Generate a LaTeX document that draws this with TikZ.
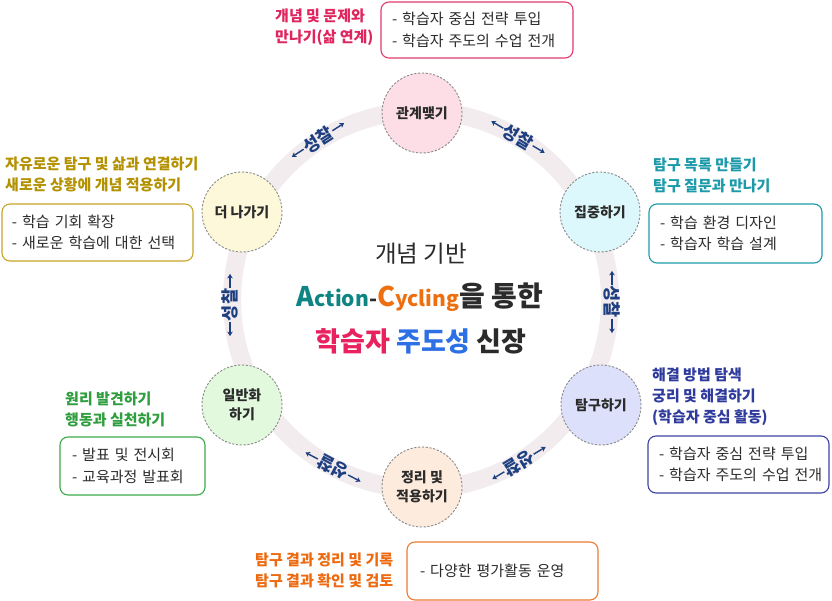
\documentclass[tikz,border=0pt]{standalone}
\usepackage{fontspec}
\setmainfont{Noto Sans CJK KR}
\usetikzlibrary{arrows.meta}
\definecolor{ringc}{HTML}{F3ECEF}
\definecolor{dashc}{HTML}{8A8A8A}
\definecolor{navy}{HTML}{1E3F80}
\definecolor{txt}{HTML}{2B2B2B}
\definecolor{crim}{HTML}{E0245E}
\definecolor{crimb}{HTML}{E33B6C}
\definecolor{gold}{HTML}{B39100}
\definecolor{goldb}{HTML}{C8A42A}
\definecolor{teal1}{HTML}{1C9AAA}
\definecolor{blu}{HTML}{2E3A9C}
\definecolor{blub}{HTML}{3B43A3}
\definecolor{grn}{HTML}{2E9E3E}
\definecolor{grnb}{HTML}{3DAA4B}
\definecolor{orn}{HTML}{EE6A10}
\definecolor{ornb}{HTML}{EE7A30}
\definecolor{actc}{HTML}{0E8582}
\definecolor{cycc}{HTML}{EE6F10}
\definecolor{hakc}{HTML}{E8215F}
\definecolor{juc}{HTML}{2D6FE4}
\definecolor{f1}{HTML}{FDDDE6}
\definecolor{f2}{HTML}{DDF8FC}
\definecolor{f3}{HTML}{DCE0FA}
\definecolor{f4}{HTML}{FDEBDD}
\definecolor{f5}{HTML}{E3F9DE}
\definecolor{f6}{HTML}{FEF8DA}
\newcommand\ringlbl[5]{%
  \begin{scope}[shift={(#2,#3)},rotate=#4]
    \node[rlab] (#1) at (0,0) {#5};
    \draw[rarr] (#1.west) -- ++(-14pt,0);
    \draw[rarr] (#1.east) -- ++(14pt,0);
  \end{scope}}
\begin{document}
\begin{tikzpicture}[x=1pt,y=-1pt,
  ring/.style={draw=ringc, line width=18pt},
  stage/.style={circle, draw=dashc, dash pattern=on 2.2pt off 1.6pt, line width=0.9pt,
    minimum size=80pt, inner sep=0pt, font=\bfseries\fontsize{14}{19.5}\selectfont,
    text=txt, align=center},
  rlab/.style={font=\bfseries\fontsize{17.5}{17.5}\selectfont, text=navy, inner sep=0.8pt, transform shape},
  rarr/.style={draw=navy, line width=1.4pt, -{Stealth[length=4.5pt,width=5.5pt]}},
  head/.style={font=\bfseries\fontsize{15}{21}\selectfont, align=left, anchor=west, inner sep=0pt},
  box/.style={draw=#1, rounded corners=8pt, line width=1.1pt,
    font=\fontsize{15}{21.5}\selectfont, text=txt, align=left, inner ysep=0pt},
]
\useasboundingbox (0,0) rectangle (832,601);
\fill[white] (0,0) rectangle (832,601);
% ring
\draw[ring] (421,300) circle (189pt);
% ring labels
\ringlbl{r1}{318}{140}{32.8}{성찰}
\ringlbl{r2}{518}{137}{-30.8}{성찰}
\ringlbl{r3}{612}{302}{-90}{성찰}
\ringlbl{r4}{519}{463}{-149}{성찰}
\ringlbl{r5}{333}{467}{152.2}{성찰}
\ringlbl{r6}{230}{305}{90}{성찰}
% stages
\node[stage, fill=f1] (s1) at (422,113) {관계맺기};
\node[stage, fill=f2] (s2) at (600,212) {집중하기};
\node[stage, fill=f3] (s3) at (601,405) {탐구하기};
\node[stage, fill=f4] (s4) at (422,487) {정리 및\\적용하기};
\node[stage, fill=f5] (s5) at (242,405) {일반화\\하기};
\node[stage, fill=f6] (s6) at (242,212) {더 나가기};
% center text
\node[font=\fontsize{23.5}{23.5}\selectfont, text=txt] (c1) at (421,254) {개념 기반};
\node[font=\bfseries\fontsize{28}{28}\selectfont, text=txt] (c2) at (420,297)
  {{\fontsize{21}{21}\selectfont\color{actc}{\fontsize{27}{27}\selectfont A}ction}{\fontsize{21}{21}\selectfont -}{\fontsize{21}{21}\selectfont\color{cycc}{\fontsize{27}{27}\selectfont C}ycling}을 통한};
\node[font=\bfseries\fontsize{27}{27}\selectfont, text=txt] (c3) at (421,341)
  {{\color{hakc}학습자} {\color{juc}주도성} 신장};
% headings
\node[head, text=crim] (h1) at (275,27) {개념 및 문제와\\만나기(삶 연계)};
\node[head, text=gold] (h6) at (5,174) {자유로운 탐구 및 삶과 연결하기\\새로운 상황에 개념 적용하기};
\node[head, text=teal1] (h2) at (653,175) {탐구 목록 만들기\\탐구 질문과 만나기};
\node[head, text=blu] (h3) at (652,397) {해결 방법 탐색\\궁리 및 해결하기\\(학습자 중심 활동)};
\node[head, text=grn] (h5) at (65,409) {원리 발견하기\\행동과 실천하기};
\node[head, text=orn] (h4) at (255,570) {탐구 결과 정리 및 기록\\탐구 결과 확인 및 검토};
% boxes
\node[box=crimb, minimum height=56pt, text width=170pt, inner xsep=11pt] (b1) at (477,30)
  {- 학습자 중심 전략 투입\\- 학습자 주도의 수업 전개};
\node[box=goldb, minimum height=57pt, text width=171pt, inner xsep=10pt] (b6) at (97.5,232.5)
  {- 학습 기회 확장\\- 새로운 학습에 대한 선택};
\node[box=teal1, minimum height=59pt, text width=151pt, inner xsep=11pt] (b2) at (735.5,233.5)
  {- 학습 환경 디자인\\- 학습자 학습 설계};
\node[box=blub, minimum height=57pt, text width=172pt, inner xsep=4.5pt] (b3) at (738.5,464.5)
  {\hspace*{6.5pt}- 학습자 중심 전략 투입\\\hspace*{6.5pt}- 학습자 주도의 수업 전개};
\node[box=grnb, minimum height=58pt, text width=121pt, inner xsep=12pt] (b5) at (132.5,466)
  {- 발표 및 전시회\\- 교육과정 발표회};
\node[box=ornb, minimum height=58pt, text width=165pt, inner xsep=13pt] (b4) at (502.5,571)
  {- 다양한 평가활동 운영};
\end{tikzpicture}
\end{document}
